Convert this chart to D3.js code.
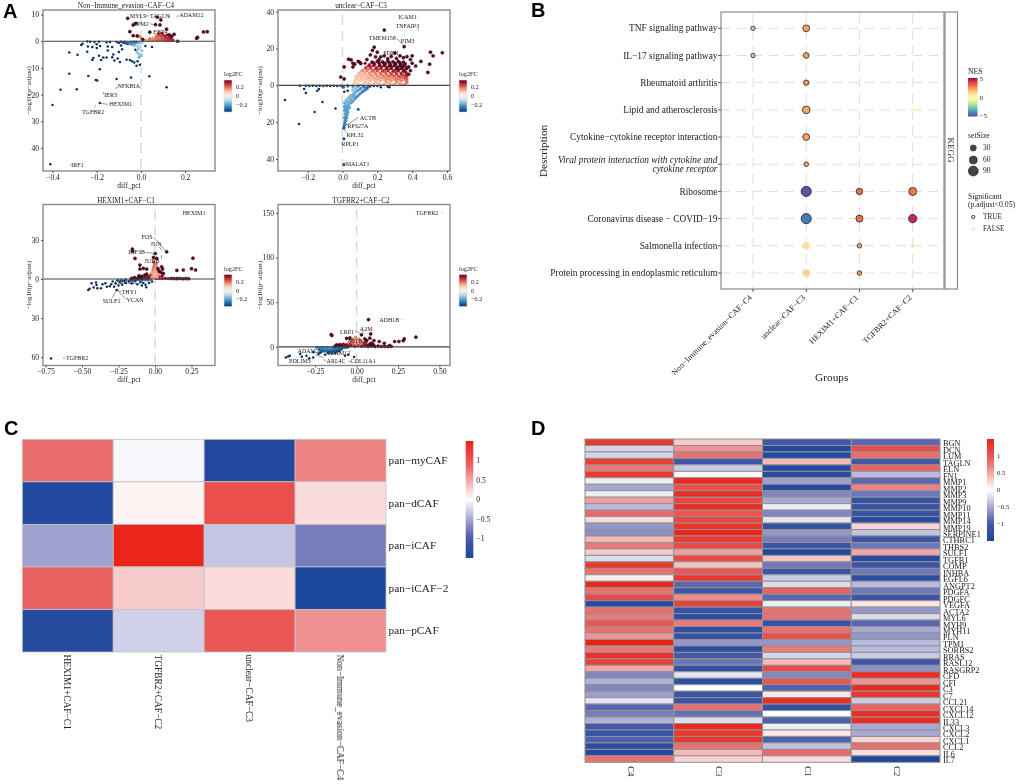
<!DOCTYPE html>
<html><head><meta charset="utf-8">
<script src="https://cdn.jsdelivr.net/npm/d3@7"></script>
<style>
html,body{margin:0;padding:0;background:#fff}
svg{display:block;filter:blur(.3px)}
text{font-family:"Liberation Serif",serif;fill:#222}
.panel{font-family:"Liberation Sans",sans-serif;font-weight:700;font-size:20px;fill:#000}
</style></head><body><svg id="chart" width="1020" height="784"></svg>
<script>
// ---------- Panel A data: [diff_pct, signed -log10(p.adjust), log2FC] ----------
const c4Down = [[-.41,-46.1,-.36],[-.4,-23.9,-.36],[-.364,-18.2,-.36],[-.29,-18,-.36],[-.324,-12.2,-.36],[-.238,-13,-.36],[-.204,-14.5,-.36],[-.198,-14.7,-.36],[-.186,-10.5,-.36],[-.11,-14.1,-.36],[-.045,-13.6,-.36],[.038,-13.1,-.36],[.116,-17.2,-.36],[-.186,-23.1,-.36],[-.324,-4.2,-.36],[-.287,-5.1,-.36],[-.243,-3.9,-.36],[-.27,-1.4,-.36],[-.264,-.9,-.36],[-.243,-.1,-.36],[-.23,-.2,-.36],[-.24,-2,-.36],[-.22,-2.2,-.36],[-.21,-.3,-.36],[-.2,-1.1,-.36],[-.2,-2.5,-.36],[-.19,-.2,-.36],[-.185,-1.8,-.36],[-.19,-5.4,-.36],[-.215,-6.3,-.36],[-.22,-7,-.36],[-.17,-6.1,-.36],[-.18,-7,-.36],[-.155,-6.1,-.36],[-.15,-2,-.36],[-.15,-3.5,-.36],[-.155,-.4,-.36],[-.14,-.3,-.36],[-.13,-2.2,-.36],[-.125,-5,-.36],[-.13,-6,-.36],[-.12,-7.2,-.36],[-.105,-6.5,-.36],[-.1,-4,-.36],[-.11,-.3,-.36],[-.095,-7.8,-.36],[-.09,-1.6,-.36],[-.085,-3,-.36],[-.08,-.6,-.36],[-.065,-6.9,-.36],[-.07,-.8,-.36],[-.06,-1,-.36],[-.05,-7,-.36],[-.04,-7.5,-.36],[-.03,-8,-.36],[-.02,-9.2,-.36],[-.005,-8.8,-.36],[-.015,-7.5,-.36],[-.025,-3.2,-.36],[.02,-1.8,-.36],[.05,-2.2,-.36],[-.1,-.7,-.36],[-.09,-.2,-.36],[-.075,-.3,-.3],[-.06,-.4,-.26],[-.05,-.8,-.24],[-.045,-.3,-.26],[-.04,-1.2,-.2],[-.035,-.5,-.24],[-.03,-1.5,-.16],[-.025,-.7,-.2],[-.02,-.3,-.24],[-.015,-1.8,-.13],[-.012,-3,-.13],[-.005,-2.2,-.11],[-.018,-4,-.15],[-.01,-4.8,-.15],[.005,-3.5,-.13],[.002,-5.3,-.15],[-.008,-6,-.17],[-.03,-.2,-.26],[-.01,-.4,-.2],[0,-1,-.1],[.005,-.4,-.13]];
const c4Up = [[.005,.3,.1],[.015,.2,.12],[.025,.4,.14],[.035,.2,.16],[.045,.5,.18],[.055,.3,.18],[.065,.6,.2],[.075,.3,.2],[.085,.6,.22],[.095,.3,.22],[.105,.5,.24],[.115,.3,.24],[.125,.5,.26],[.135,.3,.26],[.145,.4,.28],[.04,1,.2],[.055,1.1,.16],[.065,1.4,.16],[.075,1.1,.2],[.085,1.5,.18],[.095,1.2,.22],[.105,1.4,.24],[.115,1.1,.26],[.125,1.3,.28],[.135,1.1,.3],[.07,2,.2],[.08,2.2,.22],[.09,2,.24],[.1,2.4,.28],[.11,2,.3],[.12,2.3,.32],[.08,2.9,.28],[.095,3,.3],[-.005,1.6,.2],[-.012,1.9,.16],[-.06,8.6,.36],[-.035,6.1,.36],[-.023,6.7,.36],[-.05,3.6,.36],[-.035,2.1,.36],[-.017,2,.36],[.066,6.2,.36],[.086,6.1,.36],[.09,8,.36],[.074,9,.36],[.04,3.4,.36],[.116,4.5,.36],[.008,.7,.36],[.15,2.6,.36],[.166,0,.36],[.252,1.1,.36],[.256,1.5,.36],[.283,3.5,.36],[.3,3.6,.36],[.128,2.4,.36],[.139,1.8,.36]];
const c3Down = [[-.33,-7.9,-.36],[-.25,-21,-.36],[-.16,-14.5,-.36],[-.115,-9,-.36],[-.04,-12.6,-.36],[-.22,-2,-.36],[-.21,-4.1,-.36],[-.145,-3,-.36],[-.135,-2,-.36],[-.245,-.2,-.36],[-.21,-.2,-.36],[-.19,-.3,-.36],[-.17,-.2,-.36],[-.15,-.3,-.36],[-.13,-.2,-.36],[-.11,-.4,-.36],[-.09,-.2,-.36],[-.07,-.3,-.36],[-.05,-.2,-.36],[-.03,-.3,-.36],[-.01,-.2,-.36],[.01,-3.5,-.36],[.03,-3,-.36],[.05,-5.5,-.36],[.09,-13,-.28],[.22,-1,-.36],[.26,-.8,-.36],[.27,-1,-.36],[.18,-.3,-.36],[.2,-.3,-.36],[.16,-.4,-.34],[.005,-1,-.3],[.03,-.3,-.3],[.06,-.4,-.3],[.09,-.3,-.3],[.12,-.4,-.3],[.008,-43,-.3],[.008,-29,-.32],[.008,-23.2,-.3],[.01,-22,-.28],[.012,-20.5,-.26],[.015,-19.2,-.24],[.018,-18,-.24],[.012,-17.5,-.22],[.02,-16.5,-.2],[.015,-15.5,-.2],[.024,-15,-.2],[.02,-14,-.2],[.012,-13.5,-.2],[.03,-13,-.2],[.018,-12.5,-.2],[.01,-11.5,-.2],[.028,-11.5,-.2],[.04,-12,-.2],[.02,-10.5,-.18],[.035,-10,-.18],[.012,-9.5,-.18],[.05,-9.5,-.2],[.03,-8.8,-.18],[.06,-8.5,-.2],[.045,-7.5,-.18],[.02,-8,-.16],[.07,-7.4,-.2],[.04,-6.2,-.16],[.08,-6.5,-.22],[.055,-5.5,-.18],[.09,-5.5,-.22],[.065,-4.5,-.18],[.1,-4.6,-.22],[.075,-3.7,-.18],[.11,-3.8,-.22],[.085,-3,-.2],[.12,-3.1,-.24],[.095,-2.4,-.2],[.13,-2.5,-.24],[.105,-1.7,-.22],[.14,-1.8,-.26],[.145,-1,-.28],[.125,-1,-.26],[.075,-1.5,-.16],[.06,-2.5,-.16],[.016,-21,-.24],[.02,-19,-.22],[.024,-17.5,-.22],[.028,-16,-.2],[.032,-14.5,-.2],[.036,-11,-.18],[.026,-9.5,-.16],[.042,-9,-.16],[.05,-8,-.18],[.035,-7,-.16],[.06,-6.5,-.18],[.048,-6,-.16],[.07,-5.7,-.18]];
const c3Fill = [[.062,.3,.08],[.08,1.5,.08],[.105,.3,.09],[.135,1.6,.1],[.165,.3,.1],[.195,1.6,.11],[.225,.3,.11],[.255,1.6,.13],[.285,.3,.13],[.315,1.6,.15],[.345,.3,.15],[.37,1.4,.17],[.085,3,.09],[.115,3.2,.1],[.15,3.1,.11],[.18,3.2,.12],[.21,3,.14],[.24,3.2,.15],[.27,3,.16],[.3,3.2,.18],[.33,3,.19],[.36,3.2,.21],[.09,4.6,.1],[.12,4.7,.11],[.15,4.6,.13],[.18,4.8,.14],[.21,4.6,.16],[.24,4.7,.18],[.27,4.6,.19],[.3,4.8,.21],[.33,4.6,.23],[.36,4.7,.25],[.1,6,.12],[.13,6.2,.14],[.16,6,.16],[.19,6.2,.18],[.22,6,.2],[.25,6.2,.22],[.28,6,.24],[.31,6.2,.26],[.34,6,.28],[.365,6.2,.3],[.11,7.6,.15],[.14,7.8,.17],[.17,7.6,.2],[.2,7.8,.23],[.23,7.6,.26],[.26,7.8,.29],[.29,7.6,.3],[.32,7.8,.33],[.35,7.6,.35],[.13,9,.2],[.16,9.2,.24],[.19,9,.27],[.22,9.2,.3],[.25,9,.33],[.28,9.2,.35],[.31,9,.36],[.34,9.2,.36],[.365,9,.36],[.15,10.6,.3],[.18,10.8,.32],[.21,10.6,.34],[.24,10.8,.36],[.27,10.6,.36],[.3,10.8,.36],[.33,10.6,.36],[.355,10.8,.36],[.18,12,.36],[.21,12.2,.36],[.24,12,.36],[.27,12.2,.36],[.3,12,.36],[.33,12.2,.36]];
const c3Up = [[.065,.8,.09],[.09,1,.09],[.12,.7,.1],[.15,1.1,.11],[.18,.8,.12],[.21,1,.12],[.24,.7,.13],[.27,1.1,.14],[.3,.8,.15],[.33,1,.16],[.36,.8,.18],[.07,2.2,.09],[.1,2.5,.1],[.13,2.1,.11],[.16,2.6,.12],[.19,2.2,.13],[.22,2.6,.14],[.25,2.2,.15],[.28,2.6,.16],[.31,2.2,.17],[.34,2.6,.18],[.37,2.2,.2],[.075,3.7,.1],[.105,4,.11],[.135,3.6,.12],[.165,4.1,.13],[.195,3.7,.14],[.225,4.1,.15],[.255,3.7,.17],[.285,4.1,.18],[.315,3.7,.2],[.345,4.1,.21],[.37,3.7,.22],[.08,5.2,.11],[.11,5.5,.12],[.14,5.1,.13],[.17,5.6,.15],[.2,5.2,.16],[.23,5.6,.18],[.26,5.2,.2],[.29,5.6,.21],[.32,5.2,.23],[.35,5.6,.24],[.37,5.2,.26],[.095,6.7,.13],[.125,7,.14],[.155,6.6,.16],[.185,7.1,.18],[.215,6.7,.2],[.245,7.1,.22],[.275,6.7,.24],[.305,7.1,.26],[.335,6.7,.28],[.365,7.1,.3],[.115,8.2,.17],[.145,8.5,.18],[.175,8.1,.22],[.205,8.6,.24],[.235,8.2,.26],[.265,8.6,.28],[.295,8.2,.3],[.325,8.6,.32],[.355,8.2,.34],[.135,9.7,.24],[.165,10,.26],[.195,9.6,.28],[.225,10.1,.3],[.255,9.7,.32],[.285,10.1,.34],[.315,9.7,.36],[.345,10.1,.36],[.155,11.2,.3],[.185,11.5,.32],[.215,11.1,.34],[.245,11.6,.36],[.275,11.2,.36],[.305,11.6,.36],[.335,11.2,.36],[.36,11.6,.36],[.13,12,.34],[.17,12.6,.36],[.2,13,.36],[.23,12.7,.36],[.26,13.1,.36],[.29,12.8,.36],[.32,13,.36],[.35,12.6,.36],[.1,12.5,.36],[.105,11.8,.36],[.07,11.5,.36],[.09,13,.36],[.24,30,.36],[.354,21,.36],[.182,20.7,.36],[.172,19,.36],[.2,18,.36],[.16,16.5,.36],[.19,15.5,.36],[.22,15.5,.36],[.26,14.5,.36],[.28,15.7,.36],[.31,14.6,.36],[.33,16,.36],[.35,15,.36],[.37,15.6,.36],[.4,16,.36],[.39,14,.36],[.42,10.5,.36],[.45,13,.36],[.49,7,.36],[.5,11.5,.36],[.505,18,.36],[.52,16,.36],[.573,17.7,.36],[.035,14.2,.36],[.05,13.8,.36],[.06,10,.36],[.01,10,.36],[.01,3.5,.36],[-.01,4.5,.36],[.06,12,.36],[.14,14,.36],[.38,10,.36],[.4,12,.36],[.37,9.5,.36],[.39,8,.36],[.38,6,.36],[.21,14,.36],[.24,16,.36],[.3,17.5,.36]];
const c1Down = [[-.712,-61,-.36],[-.457,-8.4,-.36],[-.448,-7.4,-.36],[-.434,-3.3,-.36],[-.404,-2.6,-.36],[-.4,-4.6,-.36],[-.37,-7.1,-.36],[-.36,-4,-.36],[-.34,-3.3,-.36],[-.33,-6,-.36],[-.42,-6.5,-.36],[-.395,-7,-.36],[-.31,-5.5,-.36],[-.3,-4,-.36],[-.29,-2,-.36],[-.263,-8.4,-.36],[-.28,-6,-.36],[-.25,-5,-.36],[-.27,-3.5,-.36],[-.24,-2.5,-.36],[-.225,-4.5,-.36],[-.21,-1.5,-.36],[-.2,-3,-.36],[-.18,-2,-.36],[-.16,-3.5,-.36],[-.14,-1.5,-.36],[-.12,-4,-.36],[-.1,-2.5,-.36],[-.09,-5,-.36],[-.08,-3,-.36],[-.065,-4.5,-.36],[-.06,-6.4,-.36],[-.04,-3,-.36],[-.02,-2,-.36],[-.255,-1,-.3],[-.23,-1,-.3],[-.2,-.7,-.3],[-.17,-1,-.3],[-.15,-.5,-.3],[-.13,-.8,-.3],[-.11,-.5,-.28],[-.09,-.8,-.28],[-.07,-.5,-.26],[-.05,-.8,-.26],[-.03,-.5,-.24]];
const c1Up = [[-.16,.5,.36],[-.14,1,.36],[-.12,.5,.36],[-.1,1.2,.36],[-.09,.4,.36],[-.07,1,.34],[-.05,.4,.34],[-.04,1.2,.32],[.01,.3,.3],[.03,.5,.3],[.05,.3,.32],[.07,.5,.34],[.09,.3,.34],[.11,.4,.36],[.13,.3,.36],[.15,.3,.36],[.17,.4,.36],[.19,.2,.36],[.21,.3,.36],[.23,.2,.36],[-.11,2.5,.36],[-.09,2,.36],[-.07,3,.36],[-.05,2,.34],[-.03,3,.3],[.03,2,.3],[.05,2.5,.32],[-.02,1,.16],[0,1.5,.14],[.015,1,.14],[-.015,3,.15],[.005,3.5,.13],[.02,3,.15],[-.02,5,.16],[0,5.5,.14],[.02,5,.16],[-.015,7,.18],[.005,7.5,.14],[.015,7,.18],[-.01,9,.2],[.01,9.5,.16],[-.005,11,.2],[.01,12,.2],[-.01,13,.26],[.08,20.9,.36],[.26,16,.36],[.25,7.9,.36],[.278,6.9,.36],[.194,6.9,.36],[.15,6.6,.36],[-.155,23,.36],[-.153,21.4,.36],[-.137,15.8,.36],[.002,19.6,.36],[-.01,16.6,.36],[.012,15.8,.36],[-.103,10.7,.36],[-.08,8.2,.36],[-.057,7.6,.36],[-.103,7.6,.36],[.046,9.4,.36],[.052,7.6,.36],[.057,4.3,.36],[-.057,3.8,.36],[.02,8,.36],[.03,6,.36],[.04,5,.36]];
const c2Down = [[-.427,-11.9,-.36],[-.413,-10.8,-.36],[-.403,-10,-.36],[-.302,-10,-.36],[-.286,-12.7,-.36],[-.262,-11.9,-.36],[-.34,-8,-.36],[-.33,-11,-.36],[-.26,-6,-.36],[-.23,-8,-.36],[-.19,-9,-.36],[-.13,-7,-.36],[-.07,-10,-.36],[-.05,-9,-.36],[-.015,-11.5,-.36],[-.24,-.6,-.24],[-.225,-1,-.24],[-.21,-.6,-.22],[-.195,-1.2,-.22],[-.18,-.6,-.2],[-.165,-1,-.2],[-.15,-.6,-.2],[-.135,-1.1,-.2],[-.12,-.6,-.22],[-.105,-.9,-.24],[-.09,-.6,-.26],[-.075,-.8,-.28],[-.06,-.5,-.3],[-.225,-3,-.26],[-.21,-2.6,-.24],[-.195,-3.2,-.24],[-.18,-2.6,-.24],[-.165,-3,-.22],[-.15,-2.6,-.24],[-.135,-3.2,-.26],[-.12,-2.6,-.26],[-.105,-3,-.28],[-.09,-2.5,-.3],[-.21,-5,-.3],[-.195,-4.6,-.28],[-.18,-5,-.28],[-.165,-4.6,-.28],[-.15,-5,-.28],[-.135,-4.6,-.3],[-.12,-5,-.32],[-.105,-4.6,-.34],[-.17,-6.8,-.32],[-.15,-6.5,-.32],[-.22,-6.5,-.32]];
const c2Up = [[-.13,.6,.36],[-.11,1.2,.36],[-.09,.6,.36],[-.07,1.5,.36],[-.05,.6,.36],[-.03,1.4,.34],[-.01,.6,.32],[.01,1.4,.32],[.03,.6,.34],[.05,1.2,.36],[.07,.5,.36],[.09,1,.36],[.11,.5,.36],[.13,.8,.36],[.15,.4,.36],[.17,.6,.36],[.19,.4,.36],[-.1,2.6,.36],[-.08,3.2,.34],[-.06,2.6,.32],[-.04,3.2,.3],[-.02,2.8,.22],[0,3.2,.2],[.02,2.8,.22],[.04,3.2,.28],[.06,2.6,.34],[.08,3,.36],[.1,2.4,.36],[-.03,5,.2],[-.01,5.4,.16],[.01,5,.16],[.03,5.4,.2],[.05,4.8,.28],[-.035,7,.22],[-.015,7.4,.14],[.005,7,.13],[.025,7.4,.18],[-.02,9,.18],[0,9.4,.13],[.015,9,.16],[-.005,11,.18],[.072,30.5,.36],[-.153,13.8,.36],[-.149,12.7,.36],[.085,14.5,.36],[.03,13.4,.36],[.08,9.7,.36],[.105,7,.36],[.137,6,.36],[.167,4,.36],[.23,6,.36],[.256,6,.36],[.282,7,.36],[.288,8.9,.36],[.358,10.8,.36],[.2,1.5,.36],[.21,.4,.36],[-.04,10,.36],[-.06,9.5,.36],[-.12,2.2,.36],[.06,7,.36],[.05,9,.36],[.09,4,.36]];

// gene labels: [text, diff_pct, -log10(p)] and leader segments [x1,y1,x2,y2]
const c4Labels = [["MYL9",-.05,9.5],["TAGLN",.04,9.5],["ADAM12",.173,9.75],["TPM2",-.035,6.4],["EBP4",.056,3.5],["NFKBIA",-.106,-16.7],["IER3",-.166,-20.2],["HEXIM1",-.143,-23.7],["TGFBR2",-.267,-26.4],["IRF1",-.315,-46.2]];
const c4Segs = [[-.186,-23.1,-.148,-23.7],[-.115,-18,-.108,-17],[-.172,-19,-.168,-20],[-.211,-24.75,-.204,-24],[-.322,-46.2,-.317,-46.2],[.04,6.5,.064,6.2],[.125,10,.13,8.7],[.16,9,.17,9.7],[.025,9.5,.038,9.5]];
const c3Labels = [["ICAM1",.32,37.1],["TNFAIP3",.305,32.4],["TMEM158",.151,25.9],["PIM3",.335,24.3],["PDPN",.234,17.5],["ACTB",.1,-17.5],["RPS27A",.028,-22.2],["RPL32",.023,-26.7],["RPLP1",-.006,-31.8],["MALAT1",.019,-42.7]];
const c3Segs = [[.432,30.9,.435,29.6],[.31,25.6,.349,22],[.023,-21.6,.09,-17.5],[.01,-24,.023,-25.6],[.008,-29.2,.008,-30.1],[.006,-42.5,.015,-42.5],[.43,37.1,.435,37.1]];
const c1Labels = [["HEXIM1",.19,51],["FOS",-.091,32.6],["JUN",-.03,26.5],["IGF3B",-.183,20.4],["JUNB",-.071,13.8],["THY1",-.228,-9.7],["VCAN",-.194,-16.1],["SULF1",-.358,-16.8],["TGFBR2",-.61,-60.7],["COL3A1",-.274,-2.5]];
const c1Segs = [[-.007,32,.073,21.5],[.03,24.7,.046,22],[-.064,20.4,-.007,19.6],[.046,18.4,.043,15.3],[-.258,-8.4,-.23,-9.7],[-.263,-8.4,-.194,-16],[-.263,-8.4,-.292,-14.3],[-.63,-60.7,-.615,-60.7],[.35,51,.355,51]];
const c2Labels = [["TGFBR2",.358,150],["ADH1B",.137,30.5],["LRP1",-.1,17.1],["A2M",.02,19.7],["ZBTB20",-.056,7],["ADAM22",-.356,-5.2],["ADAM12",-.185,-7],["PDLIM3",-.407,-16.4],["ARL4C",-.181,-16.4],["COL11A1",-.036,-16.4]];
const c2Segs = [[.515,150,.52,150],[.272,30.5,.277,30.5],[-.012,18,.02,15],[.03,18,.045,15],[-.2,-14,-.184,-16],[-.05,-16.4,-.038,-16.4],[-.25,-9,-.2,-12]];

// ---------- Panel B data ----------
const kegg = ["TNF signaling pathway","IL\u221217 signaling pathway","Rheumatoid arthritis","Lipid and atherosclerosis","Cytokine\u2212cytokine receptor interaction","Viral protein interaction with cytokine and|cytokine receptor","Ribosome","Coronavirus disease \u2212 COVID\u221219","Salmonella infection","Protein processing in endoplasmic reticulum"];
const groups = ["Non\u2212Immune_evasion\u2212CAF\u2212C4","unclear\u2212CAF\u2212C3","HEXIM1+CAF\u2212C1","TGFBR2+CAF\u2212C2"];
// [pathway index, group index, NES, setSize, significant]
const gsea = [[0,0,-2,6,1],[0,1,2.2,42,1],[1,0,-2,6,1],[1,1,2.2,26,1],[2,1,2.3,20,1],[3,1,2.1,55,1],[3,3,.2,6,0],[4,1,2.2,42,1],[5,1,2.1,8,1],[6,1,-4.9,92,1],[6,2,3,36,1],[6,3,2.9,60,1],[7,1,-4.2,92,1],[7,2,3,45,1],[7,3,4.3,65,1],[8,1,1,55,0],[8,2,2.2,8,1],[8,3,.8,8,0],[9,1,1.5,50,0],[9,2,2.2,8,1]];
const nesTicks = [-5,0,5];
const setTicks = [30,60,90];

// ---------- Panel C data ----------
const cafCols = ["HEXIM1+CAF\u2212C1","TGFBR2+CAF\u2212C2","unclear\u2212CAF\u2212C3","Non\u2212Immune_evasion\u2212CAF\u2212C4"];
const cafRows = ["pan\u2212myCAF","pan\u2212dCAF","pan\u2212iCAF","pan\u2212iCAF\u22122","pan\u2212pCAF"];
const cafVals = [[.82,-.04,-1.42,.7],[-1.42,.07,1.05,.2],[-.55,1.48,-.33,-.75],[.9,.3,.2,-1.48],[-1.38,-.27,1.0,.62]];
const heatTicks = [-1,-.5,0,.5,1];

// ---------- Panel D data ----------
const geneCols = ["C4","C3","C1","C2"];
const genes = ["BGN","DCN","LUM","TAGLN","ELN","FN1","MMP1","MMP2","MMP3","MMP9","MMP10","MMP11","MMP14","MMP19","SERPINE1","CTHRC1","THBS2","SULF1","TGFB1","COMP","INHBA","EGFL6","ANGPT2","PDGFA","PDGFC","VEGFA","ACTA2","MYL6","MYH9","MYH11","PLN","TPM1","SORBS2","RRAS","RASL12","RASGRP2","CFD","CFI","C3","C7","CCL21","CXCL14","CXCL12","IL33","CXCL3","CXCL2","CXCL1","CCL2","IL6","IL7"];
const geneVals = [[1.3,.3,-1,-.9],[-.25,.6,-1.4,1.05],[-.25,.8,-1.4,.8],[1.2,-1.05,.4,-1],[.75,-.3,-1.4,.9],[1.3,.05,-1.35,-.4],[-.1,1.45,-.55,-.9],[-.5,1.05,-1.35,.7],[-.1,1.4,-.7,-.8],[.55,1.15,-.5,-1.2],[-.4,1.4,-.1,-1.15],[.85,1,-.7,-1.15],[.2,1.15,-.15,-1.35],[-.6,1.35,-1.2,.25],[-.65,1.45,-.6,-.35],[.4,1.25,-.75,-1.1],[.75,1.1,-1.1,-.8],[.3,.55,-1.45,.5],[-.2,1.1,.35,-1.35],[1.3,.35,-.8,-1.1],[.8,1,-1.1,-.8],[.1,1.3,-.3,-1.3],[1.45,-.9,-.2,-.4],[.8,-1.1,.9,-.8],[1.1,.65,-.9,-1.1],[-1.35,1.2,-.1,.15],[.8,-1.15,.8,-.6],[.75,-1.3,.8,-.2],[1,.75,-1.15,-.9],[.8,-1.25,.8,-.5],[.6,-1.2,1.05,-.6],[1.5,-.6,-.6,-.4],[.75,-1.3,.75,-.4],[1.35,-1,-.25,-.3],[1.2,-.8,.4,-1.05],[.5,-1.2,1.1,-.65],[-.7,-.15,-.7,1.4],[-.45,-1.25,1,.6],[-.7,0,-.95,1.4],[-.55,-1.1,.15,1.3],[-.15,-1.1,1.4,-.3],[-.9,.8,-1.2,.9],[-.75,-.85,0,1.4],[-.45,-.2,-.95,1.4],[-1,1.45,-.1,-.5],[-1.15,1.3,.15,-.5],[-.95,1.3,-.95,.25],[-1.3,.8,-.35,.8],[-1.4,.4,.85,.2],[.8,.25,.2,-1.45]];

// ---------- Drawing ----------
const svg = d3.select("#chart");
const defs = svg.append("defs");
const MINUS = s => String(s).replace("-", "\u2212");
const FRAME = "#8a8a8a";
let gradId = 0;
function colorbar(x, y, w, h, fn, stroke){
  const id = "grad" + (gradId++);
  const g = defs.append("linearGradient").attr("id", id).attr("x1",0).attr("x2",0).attr("y1",1).attr("y2",0);
  d3.range(0,1.001,.05).forEach(t => g.append("stop").attr("offset", t).attr("stop-color", fn(t)));
  svg.append("rect").attr("x",x).attr("y",y).attr("width",w).attr("height",h).attr("fill",`url(#${id})`).attr("stroke",stroke||"none").attr("stroke-width",.6);
}
function barTicks(x, scale, ticks, fs, fmt){
  ticks.forEach(t => svg.append("text").attr("x",x).attr("y",scale(t)).attr("dy",".33em").attr("font-size",fs).text(fmt?fmt(t):MINUS(t)));
}
const fcColor = v => d3.interpolateRdBu(1 - (Math.max(-.36,Math.min(.36,v)) + .36)/.72);

function volcano(o){
  const x = d3.scaleLinear().domain(o.xd).range([o.l,o.r]);
  const y = d3.scaleLinear().domain(o.yd).range([o.b,o.t]);
  const g = svg.append("g");
  g.append("rect").attr("x",o.l).attr("y",o.t).attr("width",o.r-o.l).attr("height",o.b-o.t).attr("fill","#fff");
  g.append("line").attr("x1",x(0)).attr("x2",x(0)).attr("y1",o.t+5).attr("y2",o.b).attr("stroke","#d8d8d8").attr("stroke-width",1.4).attr("stroke-dasharray","10 6");
  const pts = o.down.concat(o.up);
  g.selectAll("circle").data(pts).join("circle")
    .attr("cx",d=>x(d[0])).attr("cy",d=>y(d[1])).attr("r",d=>d[2]<=-.36?1.25:1.6)
    .attr("fill",d=>fcColor(d[2])).attr("stroke",d=>d[2]>=.36?"#1a0a10":"none").attr("stroke-width",.4);
  g.append("line").attr("x1",o.l).attr("x2",o.r).attr("y1",y(0)).attr("y2",y(0)).attr("stroke","#444").attr("stroke-width",1.1);
  g.selectAll("line.seg").data(o.segs).join("line").attr("class","seg")
    .attr("x1",d=>x(d[0])).attr("y1",d=>y(d[1])).attr("x2",d=>x(d[2])).attr("y2",d=>y(d[3])).attr("stroke","#333").attr("stroke-width",.5);
  g.selectAll("text.lab").data(o.labels).join("text").attr("class","lab")
    .attr("x",d=>x(d[1])).attr("y",d=>y(d[2])).attr("dy",".33em").attr("font-size",6).text(d=>d[0]);
  g.append("rect").attr("x",o.l).attr("y",o.t).attr("width",o.r-o.l).attr("height",o.b-o.t).attr("fill","none").attr("stroke",FRAME).attr("stroke-width",1.4);
  const ax = svg.append("g").attr("transform",`translate(0,${o.b})`).call(d3.axisBottom(x).tickValues(o.xt).tickSize(2).tickPadding(1.5).tickFormat(o.xf));
  const ay = svg.append("g").attr("transform",`translate(${o.l},0)`).call(d3.axisLeft(y).tickValues(o.yt).tickSize(2).tickPadding(2).tickFormat(d=>Math.abs(d)));
  [ax,ay].forEach(a=>{a.select(".domain").remove();a.selectAll("line").attr("stroke","#555");a.selectAll("text").attr("font-size",7.6).attr("font-family","Liberation Serif");});
  svg.append("text").attr("x",(o.l+o.r)/2-3).attr("y",o.t-2).attr("text-anchor","middle").attr("font-size",7.2).text(o.title);
  svg.append("text").attr("x",(o.l+o.r)/2).attr("y",o.b+16.5).attr("text-anchor","middle").attr("font-size",7.4).text("diff_pct");
  svg.append("text").attr("transform",`translate(${o.l-o.yo},${(o.t+o.b)/2}) rotate(-90)`).attr("text-anchor","middle").attr("font-size",7).text("\u2212log10(p\u2212adjust)");
  // legend
  const lx = o.r+9, ly = o.t+70;
  svg.append("text").attr("x",lx).attr("y",ly-4).attr("font-size",6.2).text("log2FC");
  const ls = d3.scaleLinear().domain([-.36,.36]).range([ly+32,ly]);
  colorbar(lx,ly,8,32,t=>d3.interpolateRdBu(1-t),"#ddd");
  barTicks(lx+12,ls,[-.2,0,.2],6.2);
}
const f2 = d => MINUS(d3.format(".2f")(d));
const f1 = d => MINUS(d===0?"0.0":d3.format(".1f")(d));
volcano({title:groups[0],l:43,r:215,t:10,b:171,yo:12.5,xd:[-.443,.335],yd:[-48.6,11.7],xt:[-.4,-.2,0,.2],yt:[10,0,-10,-20,-30,-40],xf:f1,down:c4Down,up:c4Up,labels:c4Labels,segs:c4Segs});
volcano({title:groups[1],l:278,r:450,t:10,b:171,yo:16.5,xd:[-.37,.617],yd:[-46.5,40.9],xt:[-.2,0,.2,.4,.6],yt:[40,20,0,-20,-40],xf:f1,down:c3Down,up:c3Fill.concat(c3Up),labels:c3Labels,segs:c3Segs});
volcano({title:groups[2],l:43,r:215,t:204.5,b:365.5,yo:12.5,xd:[-.767,.411],yd:[-66.4,57.2],xt:[-.75,-.5,-.25,0,.25],yt:[30,0,-30,-60],xf:f2,down:c1Down,up:c1Up,labels:c1Labels,segs:c1Segs});
volcano({title:groups[3],l:278,r:450,t:204.5,b:365.5,yo:16.5,xd:[-.474,.564],yd:[-20.9,159.4],xt:[-.25,0,.25,.5],yt:[150,100,50,0],xf:f2,down:c2Down,up:c2Up,labels:c2Labels,segs:c2Segs});

// Panel B
(function(){
  const L=721,R=944,T=12,B=289;
  const x = d3.scalePoint().domain(groups).range([753,912.7]);
  const y = d3.scalePoint().domain(kegg).range([28.3,273]);
  const r = d3.scaleLinear().domain([30,90]).range([3,5]);
  const nes = v => d3.interpolateSpectral((5-v)/10);
  const g = svg.append("g");
  g.selectAll("line.h").data(kegg).join("line").attr("class","h").attr("x1",L).attr("x2",R-5).attr("y1",d=>y(d)).attr("y2",d=>y(d)).attr("stroke","#ddd").attr("stroke-width",1).attr("stroke-dasharray","9 7");
  g.selectAll("line.v").data(groups).join("line").attr("class","v").attr("x1",d=>x(d)).attr("x2",d=>x(d)).attr("y1",T+2).attr("y2",B).attr("stroke","#ddd").attr("stroke-width",1).attr("stroke-dasharray","9 7");
  g.selectAll("circle").data(gsea).join("circle")
   .attr("cx",d=>x(groups[d[1]])).attr("cy",d=>y(kegg[d[0]])).attr("r",d=>r(d[3]))
   .attr("fill",d=>nes(d[2])).attr("fill-opacity",d=>d[4]?1:.8).attr("stroke",d=>d[4]?"#222":"none").attr("stroke-width",.8);
  g.append("rect").attr("x",L).attr("y",T).attr("width",R-L).attr("height",B-T).attr("fill","none").attr("stroke",FRAME).attr("stroke-width",1.2);
  g.append("rect").attr("x",R+1).attr("y",T).attr("width",12.5).attr("height",B-T).attr("fill","#fff").attr("stroke",FRAME).attr("stroke-width",1.2);
  svg.append("text").attr("transform",`translate(${R+4},150) rotate(90)`).attr("text-anchor","middle").attr("font-size",9).text("KEGG");
  kegg.forEach(k=>{
    const parts=k.split("|");
    svg.append("line").attr("x1",L-3).attr("x2",L).attr("y1",y(k)).attr("y2",y(k)).attr("stroke","#555");
    parts.forEach((p,i)=>svg.append("text").attr("x",L-3.5).attr("y",y(k)+(parts.length>1?(i-.5)*8.6:0)).attr("dy",".33em")
      .attr("text-anchor","end").attr("font-size",9.4).attr("font-style",parts.length>1?"italic":"normal").text(p));
  });
  groups.forEach(c=>{
    svg.append("line").attr("x1",x(c)).attr("x2",x(c)).attr("y1",B).attr("y2",B+3).attr("stroke","#555");
    svg.append("text").attr("transform",`translate(${x(c)-.5},${B+9}) rotate(-45)`).attr("text-anchor","end").attr("font-size",8.2).text(c);
  });
  svg.append("text").attr("transform","translate(547,151) rotate(-90)").attr("text-anchor","middle").attr("font-size",11.2).text("Description");
  svg.append("text").attr("x",831.7).attr("y",381).attr("text-anchor","middle").attr("font-size",11.3).text("Groups");
  const lx=968;
  svg.append("text").attr("x",lx).attr("y",73.5).attr("font-size",7.7).text("NES");
  colorbar(lx,78,9.5,38.5,t=>d3.interpolateSpectral(1-t));
  const ns=d3.scaleLinear().domain([-5,5]).range([115.5,79]);
  barTicks(lx+11.5,ns,nesTicks,7);
  svg.append("text").attr("x",lx).attr("y",137.5).attr("font-size",7.7).text("setSize");
  setTicks.forEach((s,i)=>{
    const cy=[148,160,171][i];
    svg.append("circle").attr("cx",973.3).attr("cy",cy).attr("r",r(s)).attr("fill","#444").attr("stroke","#222").attr("stroke-width",.6);
    svg.append("text").attr("x",983).attr("y",cy).attr("dy",".33em").attr("font-size",7.5).text(s);
  });
  svg.append("text").attr("x",lx).attr("y",198.5).attr("font-size",7.7).text("Significant");
  svg.append("text").attr("x",lx).attr("y",206.5).attr("font-size",7.7).text("(p.adjust<0.05)");
  [["TRUE",217,1],["FALSE",229,0]].forEach(d=>{
    svg.append("circle").attr("cx",973.3).attr("cy",d[1]).attr("r",1.6).attr("fill","#fff").attr("stroke",d[2]?"#333":"#ddd").attr("stroke-width",1);
    svg.append("text").attr("x",983).attr("y",d[1]).attr("dy",".33em").attr("font-size",7.2).text(d[0]);
  });
})();

// Heat maps
const heatColor = d3.scaleLinear().domain([-1.5,-1,-.7,-.33,0,.35,.8,1.05,1.5]).range(["#1b469b","#4558a8","#8386bf","#c6c6e4","#ffffff","#f6c2c2","#ea7070","#ea4f4c","#ea2317"]);
function heatmap(o){
  const x=d3.scaleBand().domain(o.cols).range([o.l,o.r]);
  const y=d3.scaleBand().domain(o.rows).range([o.t,o.b]);
  const cells=o.vals.flatMap((row,i)=>row.map((v,j)=>({r:o.rows[i],c:o.cols[j],v})));
  svg.append("g").selectAll("rect").data(cells).join("rect")
    .attr("x",d=>x(d.c)).attr("y",d=>y(d.r)).attr("width",x.bandwidth()).attr("height",y.bandwidth())
    .attr("fill",d=>heatColor(d.v)).attr("stroke",o.stroke).attr("stroke-width",o.sw);
  o.rows.forEach(r=>svg.append("text").attr("x",o.r+o.rp).attr("y",y(r)+y.bandwidth()/2+(o.ro||0)).attr("dy",".33em").attr("font-size",o.rf).text(r));
  o.cols.forEach(c=>svg.append("text").attr("transform",`translate(${x(c)+x.bandwidth()/2+o.co},${o.b+o.cp}) rotate(90)`).attr("font-size",o.cf).attr("text-anchor",o.ca).text(c));
  const s=d3.scaleLinear().domain([-1.5,1.5]).range([o.cbB,o.cbT]);
  colorbar(o.cbX,o.cbT,o.cbW,o.cbB-o.cbT,t=>heatColor(t*3-1.5));
  barTicks(o.cbX+o.cbW+3,s,heatTicks,o.tf);
}
heatmap({cols:cafCols,rows:cafRows,vals:cafVals,l:22.3,r:386,t:439.3,b:652,stroke:"#c4c4c4",sw:.8,rp:2.5,rf:11.3,cf:9.4,cp:2.5,co:-3.5,ca:"start",cbX:465.7,cbW:7.6,cbT:441,cbB:558,tf:7.7});
heatmap({cols:geneCols,rows:genes,vals:geneVals,l:585,r:940,t:439,b:762.3,stroke:"#929292",sw:1,rp:3,rf:8.3,ro:1.5,cf:8.6,cp:4,co:-1.7,ca:"start",cbX:987,cbW:7,cbT:439,cbB:541,tf:6.8});

// Panel letters
[["A",3,18],["B",531,17],["C",4,435],["D",531,435]].forEach(d=>svg.append("text").attr("class","panel").attr("x",d[1]).attr("y",d[2]).text(d[0]));
</script></body></html>
